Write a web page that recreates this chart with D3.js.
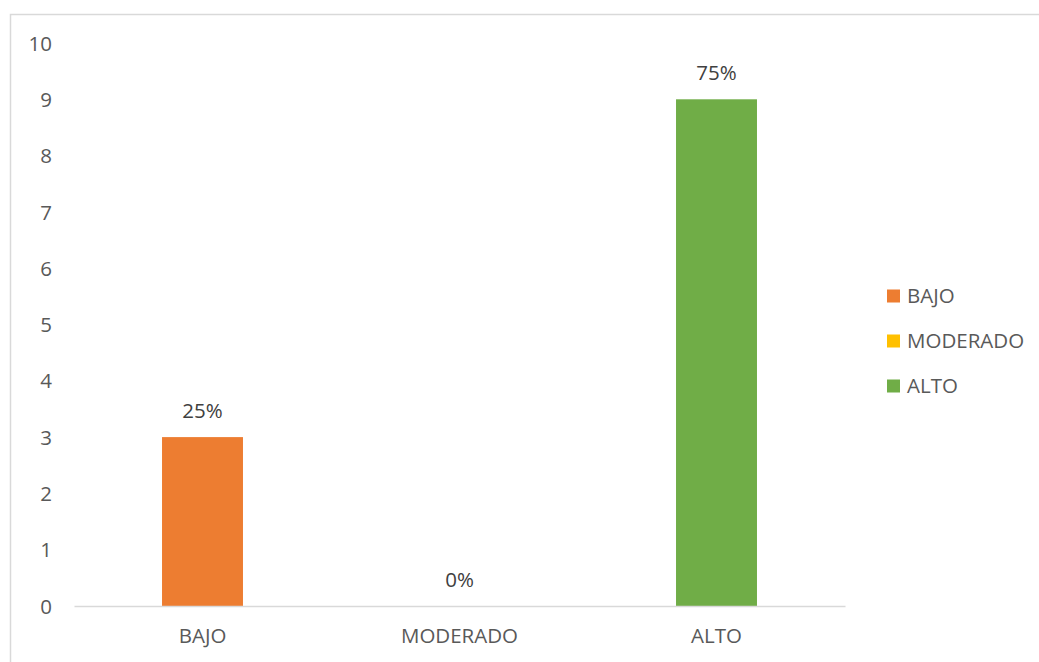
<!DOCTYPE html>
<html>
<head>
<meta charset="utf-8">
<script src="https://cdn.jsdelivr.net/npm/d3@7"></script>
<style>
  html, body { margin: 0; padding: 0; background: #fff; }
  svg { display: block; font-family: "Open Sans", "Liberation Sans", sans-serif; }
</style>
</head>
<body>
<svg id="chart" width="1039" height="662"></svg>
<script>
// Levels and counts
const categories = ["BAJO", "MODERADO", "ALTO"];
const values = [3, 0, 9];
const percentLabels = ["25%", "0%", "75%"];
const colors = ["#ED7D31", "#FFC000", "#70AD47"];
const yTicks = [0, 1, 2, 3, 4, 5, 6, 7, 8, 9, 10];

const svg = d3.select("#chart");
const W = 1039, H = 662;
const fontSize = "20.5px";

// Outer frame
svg.append("rect")
  .attr("x", 10.5).attr("y", 14.5)
  .attr("width", W + 20).attr("height", H)
  .attr("fill", "none").attr("stroke", "#d9d9d9").attr("stroke-width", 1.5);

const plot = { left: 74, right: 845, top: 43, bottom: 606 };

const x = d3.scaleBand()
  .domain(categories)
  .range([plot.left, plot.right])
  .paddingInner(0.685).paddingOuter(0.3425);

const y = d3.scaleLinear()
  .domain([0, 10])
  .range([plot.bottom, plot.top]);

// Y axis labels (no axis line, no gridlines)
const yAxis = d3.axisLeft(y).tickValues(yTicks).tickSize(0).tickPadding(0);
const gy = svg.append("g")
  .attr("transform", `translate(${52},0)`)
  .call(yAxis);
gy.select(".domain").remove();
gy.selectAll("text")
  .attr("fill", "#595959")
  .style("font-size", fontSize)
  .style("font-family", "'Open Sans', sans-serif")
  .attr("dy", "0.35em");

// Bars
svg.append("g").selectAll("rect")
  .data(categories)
  .join("rect")
  .attr("x", d => x(d))
  .attr("width", x.bandwidth())
  .attr("y", (d, i) => y(values[i]))
  .attr("height", (d, i) => y(0) - y(values[i]))
  .attr("fill", (d, i) => colors[i]);

// Category axis along the baseline
const xAxis = d3.axisBottom(x).tickSize(0).tickPadding(0);
const gx = svg.append("g")
  .attr("transform", `translate(0,${plot.bottom})`)
  .call(xAxis);
gx.select(".domain")
  .attr("stroke", "#d9d9d9").attr("stroke-width", 1.5);
gx.selectAll("text")
  .attr("fill", "#595959")
  .style("font-size", fontSize)
  .style("font-family", "'Open Sans', sans-serif")
  .attr("y", 30)
  .attr("dy", "0.35em");

// Value labels above the bars
svg.append("g").selectAll("text")
  .data(categories)
  .join("text")
  .attr("x", d => x(d) + x.bandwidth() / 2)
  .attr("y", (d, i) => y(values[i]) - 26)
  .attr("dy", "0.35em")
  .attr("text-anchor", "middle")
  .attr("fill", "#404040")
  .style("font-size", fontSize)
  .text((d, i) => percentLabels[i]);

// Legend
const legend = svg.append("g").attr("transform", "translate(887,296)");
const item = legend.selectAll("g")
  .data(categories)
  .join("g")
  .attr("transform", (d, i) => `translate(0,${i * 45})`);
item.append("rect")
  .attr("x", 0).attr("y", -6.5)
  .attr("width", 13).attr("height", 13)
  .attr("fill", (d, i) => colors[i]);
item.append("text")
  .attr("x", 20).attr("y", 0)
  .attr("dy", "0.35em")
  .attr("fill", "#595959")
  .style("font-size", fontSize)
  .text(d => d);
</script>
</body>
</html>
